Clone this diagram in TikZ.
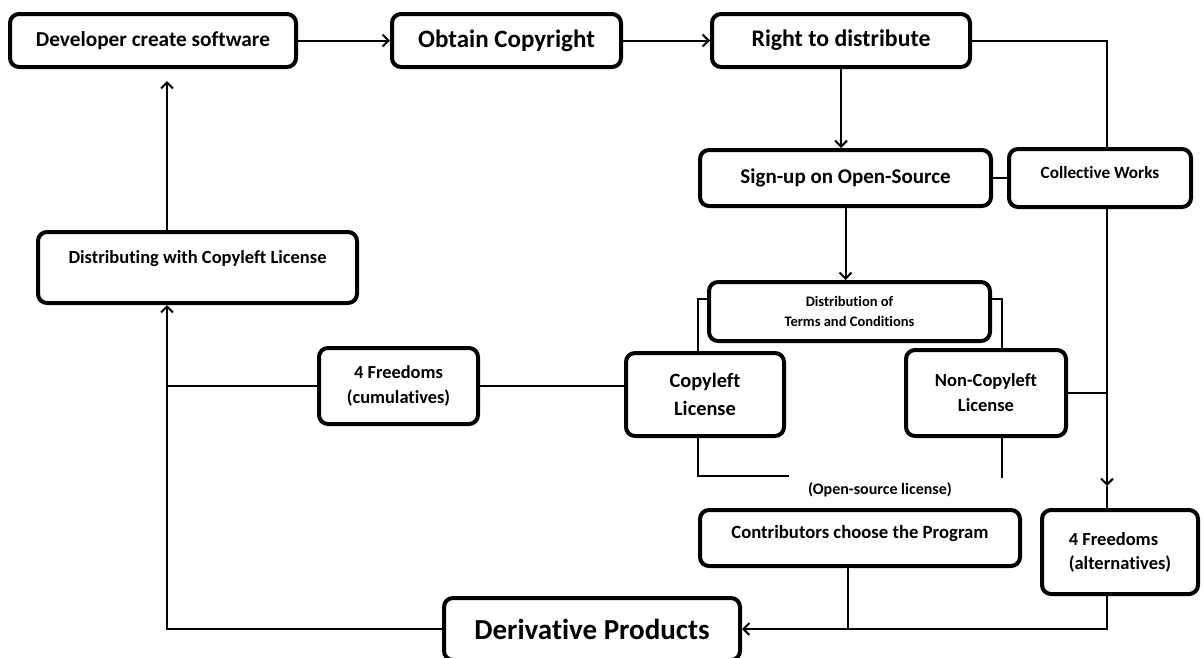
\documentclass[tikz,border=0pt]{standalone}
\usepackage{fontspec}
\setmainfont{Carlito}[Ligatures=NoCommon]
\usetikzlibrary{arrows.meta,backgrounds}
\newcommand{\fsz}[2]{\fontsize{#1}{#2}\selectfont}
\begin{document}
\begin{tikzpicture}[x=1pt, y=-1pt,
    box/.style={draw, line width=4pt, rounded corners=9pt, fill=white, align=center, inner sep=0pt},
    wire/.style={line width=2pt},
    arr/.style={wire, -{Straight Barb[length=6pt,width=12pt]}}]
  \useasboundingbox (0,0) rectangle (1202,657);

  % top row
  \node [box, minimum width=286pt, minimum height=53pt, font=\bfseries\fsz{21.3}{25}] (dev) at (153,40.5) {Developer create software};
  \node [box, minimum width=229pt, minimum height=53pt, font=\bfseries\fsz{25}{30}] (obtain) at (506.5,40.5) {Obtain Copyright};
  \node [box, minimum width=258pt, minimum height=53pt, font=\bfseries\fsz{23.8}{28}] (right) at (841,40.5) {Right to distribute};

  % open-source branch
  \node [box, minimum width=291pt, minimum height=56pt, font=\bfseries\fsz{21}{25}] (signup) at (845.5,178) {Sign-up on Open-Source};
  \node [box, minimum width=182pt, minimum height=58pt, text depth=12pt, font=\bfseries\fsz{17.2}{21}] (collect) at (1100,178) {Collective Works};
  \node [box, minimum width=281pt, minimum height=59pt, font=\bfseries\fsz{14.5}{20}] (terms) at (849.5,311.5) {Distribution of\\Terms and Conditions};
  \node [box, minimum width=158pt, minimum height=83pt, font=\bfseries\fsz{20.4}{28}] (copyleft) at (705,394.5) {Copyleft\\License};
  \node [box, minimum width=160pt, minimum height=86pt, font=\bfseries\fsz{18.5}{25}] (noncopy) at (986,393) {Non-Copyleft\\License};
  \node [font=\bfseries\fsz{16}{20}] (oslabel) at (880,490) {(Open-source license)};
  \node [box, minimum width=320pt, minimum height=56pt, text depth=12pt, font=\bfseries\fsz{18.7}{23}] (contrib) at (860,538) {Contributors choose the Program};
  \node [box, minimum width=156pt, minimum height=84pt, align=left, font=\bfseries\fsz{18.5}{24}] (freealt) at (1120,552) {4 Freedoms\\(alternatives)};

  % left loop
  \node [box, minimum width=319pt, minimum height=71pt, text depth=20pt, font=\bfseries\fsz{18.5}{23}] (distrib) at (197.5,267.5) {Distributing with Copyleft License};
  \node [box, minimum width=159pt, minimum height=76pt, font=\bfseries\fsz{18.4}{25}] (freecum) at (398.5,386) {4 Freedoms\\(cumulatives)};
  \node [box, minimum width=296pt, minimum height=62pt, font=\bfseries\fsz{29}{34}] (deriv) at (592,629) {Derivative Products};

  \coordinate (lft) at (167,0);
  \coordinate (rtip) at (1107,486);
  \coordinate (cx) at (848,0);

  \begin{scope}[on background layer]
    % frame behind the licence boxes
    \draw [wire] (789,476) -- (698,476) -- (698,299) -- (1002,299) -- (1002,478);

    \draw [arr] (dev) -- (obtain);
    \draw [arr] (obtain) -- (right);
    \draw [arr] (right.south) -- (right.south |- signup.north);
    \draw [arr] (signup.south) -- (signup.south |- terms.north);
    \draw [wire] (right.east) -| (collect.north -| rtip);
    \draw [wire] (signup.east) -- (collect.west);
    \draw [arr] (collect.south -| rtip) -- (rtip);
    \draw [wire] (rtip) -- (freealt.north -| rtip);
    \draw [wire] (noncopy.east) -- (noncopy.east -| rtip);
    \draw [arr] (freealt.south -| rtip) |- (deriv.east);
    \draw [wire] (contrib.south -| cx) -- (cx |- deriv.east);
    \draw [wire] (freecum.east) -- (freecum.east -| copyleft.west);
    \draw [wire] (freecum.west) -- (freecum.west -| lft);
    \draw [arr] (deriv.west) -| (lft |- distrib.south);
    \draw [arr, shorten >=12pt] (lft |- distrib.north) -- (lft |- dev.south);
  \end{scope}
\end{tikzpicture}
\end{document}
